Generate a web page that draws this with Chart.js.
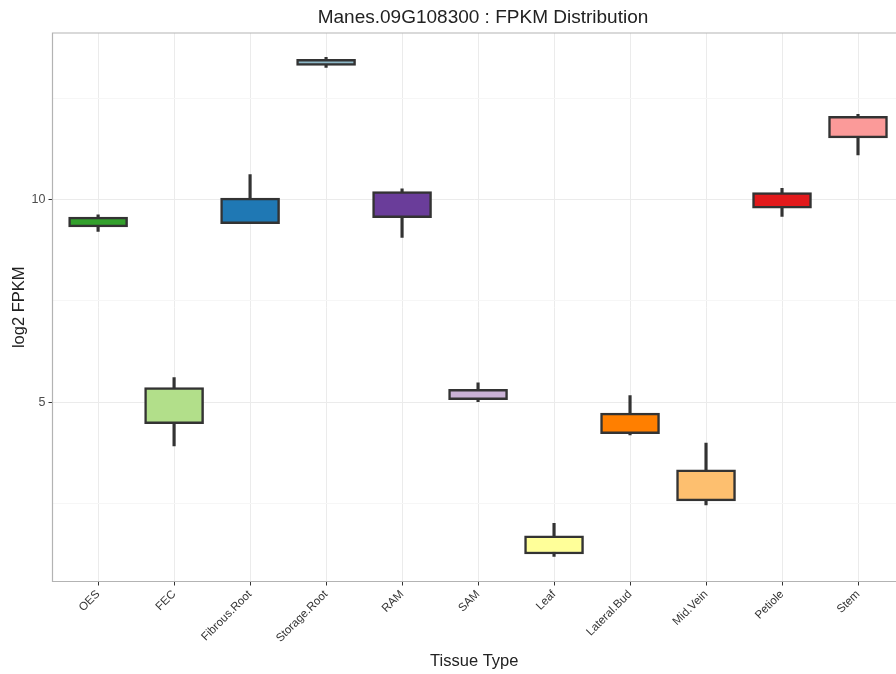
<!DOCTYPE html>
<html>
<head>
<meta charset="utf-8">
<script src="https://cdn.jsdelivr.net/npm/chart.js@4/dist/chart.umd.min.js"></script>
<style>
    html, body { margin: 0; padding: 0; background: #fff; overflow: hidden; }
    #box { display: block; }
</style>
</head>
<body>
<canvas id="box" width="896" height="674"></canvas>
<script>
// tissue categories and box statistics (log2 FPKM)
const tissues = ['OES', 'FEC', 'Fibrous.Root', 'Storage.Root', 'RAM', 'SAM', 'Leaf', 'Lateral.Bud', 'Mid.Vein', 'Petiole', 'Stem'];
const whiskerLow  = [9.22, 3.92, 9.41, 13.27, 9.07, 5.01, 1.19, 4.19, 2.46, 9.59, 11.11];
const boxLow      = [9.33, 4.47, 9.41, 13.32, 9.56, 5.06, 1.25, 4.22, 2.56, 9.79, 11.53];
const boxHigh     = [9.57, 5.36, 10.04, 13.47, 10.20, 5.32, 1.70, 4.73, 3.33, 10.18, 12.06];
const whiskerHigh = [9.63, 5.61, 10.62, 13.52, 10.27, 5.48, 2.01, 5.16, 3.99, 10.28, 12.11];
const boxColors = ['#33a02c', '#b2df8a', '#1f78b4', '#8db8c8', '#6a3d9a', '#cab2d6', '#ffff99', '#ff7f00', '#fdbf6f', '#e31a1c', '#fb9a99'];
const yTicks = [2.5, 5, 7.5, 10, 12.5];

const chartTitle = 'Manes.09G108300 : FPKM Distribution';
const FONT = "'Liberation Sans', Arial, sans-serif";

// title + panel border (ggplot style)
const panelPlugin = {
    id: 'panel',
    afterDraw(chart) {
        const { ctx, chartArea } = chart;
        ctx.save();
        ctx.strokeStyle = '#b3b3b3';
        ctx.lineWidth = 1.2;
        ctx.beginPath();
        ctx.moveTo(chartArea.right + 1, chartArea.top);
        ctx.lineTo(chartArea.left, chartArea.top);
        ctx.lineTo(chartArea.left, chartArea.bottom);
        ctx.lineTo(chartArea.right + 1, chartArea.bottom);
        ctx.stroke();

        ctx.fillStyle = '#222';
        ctx.font = '19px ' + FONT;
        ctx.textAlign = 'center';
        ctx.textBaseline = 'alphabetic';
        ctx.fillText(chartTitle, 483, 23);
        ctx.restore();
    }
};

const ctx = document.getElementById('box').getContext('2d');
new Chart(ctx, {
    type: 'bar',
    data: {
        datasets: [
            {
                label: 'whisker',
                data: tissues.map((t, i) => ({ x: i + 1, y: [whiskerLow[i], whiskerHigh[i]] })),
                backgroundColor: '#333333',
                barThickness: 2.5,
                grouped: false,
                order: 2
            },
            {
                label: 'box',
                data: tissues.map((t, i) => ({ x: i + 1, y: [boxLow[i], boxHigh[i]] })),
                backgroundColor: boxColors,
                borderColor: '#333333',
                borderWidth: 2.5,
                borderSkipped: false,
                barThickness: 59,
                grouped: false,
                order: 1
            }
        ]
    },
    options: {
        responsive: false,
        animation: false,
        layout: { padding: { top: 33, left: 0, right: 0, bottom: 0 } },
        plugins: {
            legend: { display: false },
            tooltip: { enabled: false },
            title: { display: false }
        },
        scales: {
            x: {
                type: 'linear',
                min: 0.4,
                max: 11.5,
                offset: false,
                afterBuildTicks: (scale) => {
                    scale.ticks = tissues.map((t, i) => ({ value: i + 1 }));
                },
                afterFit: (scale) => { scale.height = 92.5; },
                border: { display: false },
                grid: {
                    offset: false,
                    color: '#ebebeb',
                    lineWidth: 1,
                    tickColor: '#333',
                    tickLength: 4
                },
                ticks: {
                    autoSkip: false,
                    minRotation: 45,
                    maxRotation: 45,
                    padding: 2,
                    color: '#333',
                    font: { family: FONT, size: 11.5 },
                    callback: (v) => tissues[v - 1] || ''
                },
                title: {
                    display: true,
                    text: 'Tissue Type',
                    color: '#222',
                    font: { family: FONT, size: 16.5 },
                    padding: { top: 0, bottom: 3 }
                }
            },
            y: {
                min: 0.57,
                max: 14.12,
                afterBuildTicks: (scale) => {
                    scale.ticks = yTicks.map(v => ({ value: v }));
                },
                afterFit: (scale) => { scale.width = 52.5; },
                border: { display: false },
                grid: {
                    color: (c) => (c.tick && c.tick.value % 5 === 0) ? '#ebebeb' : '#f6f6f6',
                    tickColor: (c) => (c.tick && c.tick.value % 5 === 0) ? '#333' : 'rgba(0,0,0,0)',
                    tickLength: 4
                },
                ticks: {
                    padding: 3,
                    color: '#4d4d4d',
                    font: { family: FONT, size: 12.5 },
                    callback: (v) => (v % 5 === 0 ? v : '')
                },
                title: {
                    display: true,
                    text: 'log2 FPKM',
                    color: '#222',
                    font: { family: FONT, size: 16.5 },
                    padding: { top: 10, bottom: 0 }
                }
            }
        }
    },
    plugins: [panelPlugin]
});
</script>
</body>
</html>
